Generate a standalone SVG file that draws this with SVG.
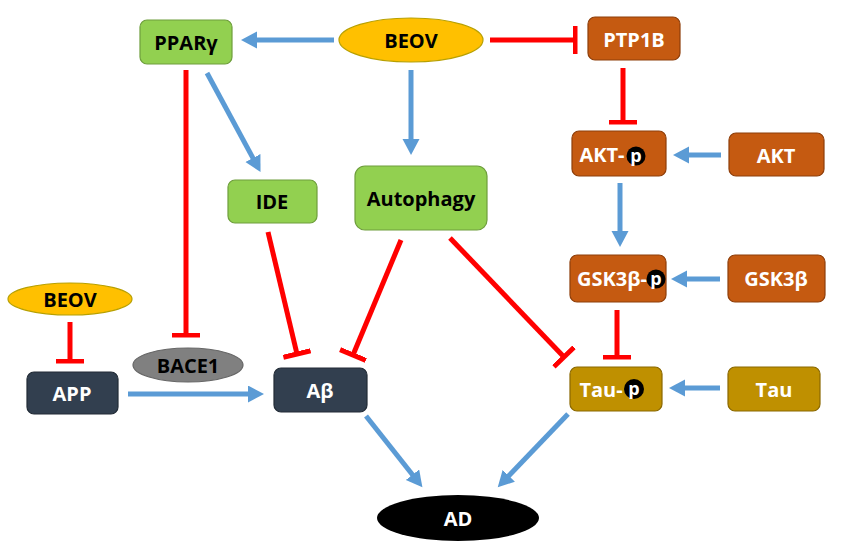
<svg xmlns="http://www.w3.org/2000/svg" width="850" height="549" viewBox="0 0 850 549">
<defs>
<style>
text{font-family:"Open Sans","Liberation Sans",sans-serif;font-weight:700;font-size:20px;text-anchor:middle;dominant-baseline:central}
.dk{fill:#000}
.wt{fill:#fff}
.sm{font-size:18px}
.green{fill:#92D050;stroke:#6E9E3C;stroke-width:1.2}
.brown{fill:#C55A11;stroke:#8E3E0A;stroke-width:1.2}
.gold{fill:#BF9000;stroke:#8A6800;stroke-width:1.2}
.navy{fill:#323F4F;stroke:#222B36;stroke-width:1.2}
.yellow{fill:#FFC000;stroke:#B8A000;stroke-width:1.2}
.grey{fill:#808080;stroke:#666;stroke-width:1.2}
.black{fill:#000}
.act{stroke:#5B9BD5;stroke-width:5;fill:none;marker-end:url(#arr)}
.inh{stroke:#FF0000;stroke-width:5;fill:none;marker-end:url(#tee)}
</style>
<marker id="arr" markerUnits="userSpaceOnUse" markerWidth="18" markerHeight="18" refX="1" refY="8.5" orient="auto">
<path d="M0,0 L16,8.5 L0,17 z" fill="#5B9BD5"/>
</marker>
<marker id="tee" markerUnits="userSpaceOnUse" markerWidth="8" markerHeight="30" refX="2.5" refY="14" orient="auto">
<rect x="0" y="0" width="5" height="28" fill="#FF0000"/>
</marker>
</defs>
<rect width="850" height="549" fill="#fff"/>
<g id="connectors">
<line class="act" x1="334" y1="40" x2="256" y2="40"/>
<line class="act" x1="411" y1="70" x2="411" y2="140"/>
<line class="act" x1="207" y1="73" x2="253.4" y2="158.9"/>
<line class="act" x1="721" y1="155" x2="688" y2="155"/>
<line class="act" x1="620" y1="183" x2="620" y2="232"/>
<line class="act" x1="720" y1="279" x2="686" y2="279"/>
<line class="act" x1="720" y1="388" x2="684" y2="388"/>
<line class="act" x1="128" y1="394" x2="249" y2="394"/>
<line class="act" x1="366" y1="416" x2="413.1" y2="475.5"/>
<line class="act" x1="568" y1="414" x2="508.1" y2="476.5"/>
<line class="inh" x1="490" y1="40" x2="575" y2="40"/>
<line class="inh" x1="623" y1="68" x2="623" y2="122"/>
<line class="inh" x1="186" y1="70" x2="186" y2="335"/>
<line class="inh" x1="70" y1="322" x2="70" y2="361"/>
<line class="inh" x1="268" y1="232" x2="297" y2="354"/>
<line class="inh" x1="401" y1="240" x2="353" y2="355"/>
<line class="inh" x1="450" y1="238" x2="564" y2="357"/>
<line class="inh" x1="617" y1="310" x2="617" y2="357"/>
</g>
<g id="beov-top"><ellipse class="yellow" cx="411" cy="40" rx="72" ry="22"/><text class="dk" x="411" y="40">BEOV</text></g>
<g id="ppar"><rect class="green" x="140" y="20" width="92" height="44" rx="7"/><text class="dk" x="186" y="42">PPARγ</text></g>
<g id="ptp1b"><rect class="brown" x="588" y="17" width="92" height="43" rx="7"/><text class="wt" x="634" y="39">PTP1B</text></g>
<g id="aktp"><rect class="brown" x="572" y="131" width="94" height="45" rx="7"/><text class="wt" x="602" y="154">AKT-</text><circle class="black" cx="636" cy="156" r="9.5"/><text class="wt sm" x="636" y="155">p</text></g>
<g id="akt"><rect class="brown" x="729" y="133" width="95" height="43" rx="7"/><text class="wt" x="776" y="155">AKT</text></g>
<g id="ide"><rect class="green" x="228" y="180" width="89" height="43" rx="7"/><text class="dk" x="272" y="201">IDE</text></g>
<g id="autophagy"><rect class="green" x="355" y="166" width="132" height="64" rx="10"/><text class="dk" x="421" y="198">Autophagy</text></g>
<g id="gsk3bp"><rect class="brown" x="570" y="255" width="96" height="47" rx="7"/><text class="wt" x="612" y="278">GSK3β-</text><circle class="black" cx="656" cy="279" r="9.5"/><text class="wt sm" x="656" y="278">p</text></g>
<g id="gsk3b"><rect class="brown" x="728" y="255" width="97" height="47" rx="7"/><text class="wt" x="776" y="278">GSK3β</text></g>
<g id="beov-left"><ellipse class="yellow" cx="70" cy="299" rx="62" ry="16"/><text class="dk" x="70" y="299">BEOV</text></g>
<g id="bace1"><ellipse class="grey" cx="188" cy="365" rx="55" ry="17"/><text class="dk" x="188" y="365">BACE1</text></g>
<g id="app"><rect class="navy" x="27" y="372" width="91" height="42" rx="7"/><text class="wt" x="72" y="393">APP</text></g>
<g id="abeta"><rect class="navy" x="274" y="368" width="93" height="44" rx="7"/><text class="wt" x="320" y="390">Aβ</text></g>
<g id="taup"><rect class="gold" x="570" y="367" width="92" height="44" rx="7"/><text class="wt" x="601" y="389">Tau-</text><circle class="black" cx="634" cy="389" r="10"/><text class="wt sm" x="634" y="388">p</text></g>
<g id="tau"><rect class="gold" x="728" y="367" width="92" height="44" rx="7"/><text class="wt" x="774" y="389">Tau</text></g>
<g id="ad"><ellipse class="black" cx="458" cy="518" rx="81" ry="23"/><text class="wt" x="458" y="518">AD</text></g>
</svg>
